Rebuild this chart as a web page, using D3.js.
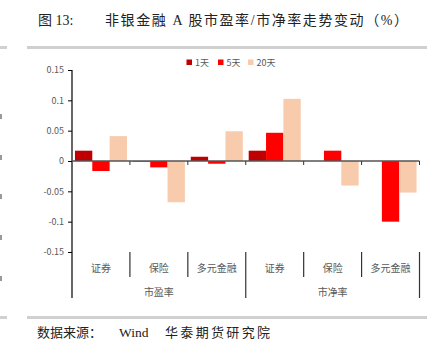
<!DOCTYPE html>
<html><head><meta charset="utf-8">
<script src="https://cdn.jsdelivr.net/npm/d3@7/dist/d3.min.js"></script>
<style>
body{margin:0;background:#fff;}
svg{display:block;}
</style></head>
<body>
<svg id="c" width="444" height="350"></svg>
<script>
const groups = ["市盈率", "市净率"];
const categories = ["证券", "保险", "多元金融"];
const seriesNames = ["1天", "5天", "20天"];
const colors = ["#C00000", "#FF0000", "#F8CBAD"];
// values per series across the 6 category slots (市盈率: 证券, 保险, 多元金融; 市净率: 证券, 保险, 多元金融)
const s1 = [0.017, -0.001, 0.007, 0.017, 0.0, 0.0];
const s5 = [-0.0165, -0.0105, -0.0045, 0.0465, 0.017, -0.100];
const s20 = [0.041, -0.068, 0.049, 0.1025, -0.0405, -0.052];
const yTicks = [0.15, 0.1, 0.05, 0, -0.05, -0.1, -0.15];
const yTickLabels = ["0.15", "0.1", "0.05", "0", "-0.05", "-0.1", "-0.15"];

const svg = d3.select("#c");
const serif = "'Liberation Serif','DejaVu Serif','Noto Sans CJK SC',serif";
const sans = "'Noto Sans CJK SC','Microsoft YaHei',sans-serif";

// title
svg.append("text").attr("x", 38).attr("y", 25).attr("font-family", serif)
  .attr("font-size", 14).attr("fill", "#222").text("图 13:");
svg.append("text").attr("x", 105).attr("y", 25).attr("font-family", serif)
  .attr("font-size", 14).attr("fill", "#222")
  .attr("textLength", 303).attr("lengthAdjust", "spacing")
  .text("非银金融 A 股市盈率/市净率走势变动（%）");

// separator lines
svg.append("rect").attr("x", 27).attr("y", 46).attr("width", 400).attr("height", 3).attr("fill", "#d0d0d0");
svg.append("rect").attr("x", 0).attr("y", 46).attr("width", 7).attr("height", 3).attr("fill", "#d0d0d0");
svg.append("rect").attr("x", 27).attr("y", 316).attr("width", 400).attr("height", 3).attr("fill", "#d0d0d0");
svg.append("rect").attr("x", 0).attr("y", 316).attr("width", 7).attr("height", 3).attr("fill", "#d0d0d0");

// clipped neighbour fragments at left edge (drawn as small marks)
[114,155,194,235,276].forEach(yy=>{
  svg.append("rect").attr("x", 0).attr("y", yy).attr("width", 2).attr("height", 5).attr("fill", "#999");
});

// source
svg.append("text").attr("x", 37).attr("y", 337).attr("font-family", serif)
  .attr("font-size", 13).attr("fill", "#222").text("数据来源：");
svg.append("text").attr("x", 119).attr("y", 337).attr("font-family", serif)
  .attr("font-size", 13.5).attr("fill", "#222").text("Wind");
svg.append("text").attr("x", 165).attr("y", 337).attr("font-family", serif)
  .attr("font-size", 13).attr("fill", "#222")
  .attr("textLength", 105).attr("lengthAdjust", "spacing").text("华泰期货研究院");

// plot
const x0 = 72, x1 = 419.5;
const y = d3.scaleLinear().domain([-0.15, 0.15]).range([252, 70]);
const slots = d3.range(6);
const x = d3.scaleBand().domain(slots).range([x0, x1]).paddingInner(0).paddingOuter(0);
const inner = d3.scaleBand().domain([0,1,2]).range([0, x.bandwidth()]).paddingInner(0).paddingOuter(0.17);

// y axis
const yAxis = d3.axisLeft(y).tickValues(yTicks).tickSize(4).tickFormat((d,i)=>yTickLabels[i]);
const ga = svg.append("g").attr("transform", `translate(${x0},0)`).call(yAxis);
ga.select(".domain").remove();
ga.selectAll(".tick line").attr("stroke", "#000");
ga.selectAll(".tick text").attr("font-family", sans).attr("font-size", 9).attr("fill", "#595959").attr("x", -8);
svg.append("line").attr("x1", x0).attr("x2", x0).attr("y1", 70).attr("y2", 298).attr("stroke", "#000").attr("stroke-width", 1.2);

// bars
const all = [s1, s5, s20];
all.forEach((arr, si) => {
  svg.append("g").selectAll("rect").data(arr).join("rect")
    .attr("x", (d,i) => x(i) + inner(si))
    .attr("width", inner.bandwidth())
    .attr("y", d => Math.min(y(d), y(0)))
    .attr("height", d => Math.abs(y(d) - y(0)))
    .attr("fill", colors[si]);
});

// x axis line at 0
svg.append("line").attr("x1", x0).attr("x2", x1).attr("y1", y(0)).attr("y2", y(0)).attr("stroke", "#555").attr("stroke-width", 1.3);
// tick marks below axis
slots.forEach(i => {
  const tx = x(i) + x.bandwidth();
  svg.append("line").attr("x1", tx).attr("x2", tx).attr("y1", y(0)).attr("y2", y(0)+4).attr("stroke", "#333");
});

// category labels and separators
slots.forEach(i => {
  svg.append("text").attr("x", x(i) + x.bandwidth()/2).attr("y", 272).attr("text-anchor", "middle")
    .attr("font-family", sans).attr("font-size", 10).attr("fill", "#595959").text(categories[i % 3]);
  const tx = x(i) + x.bandwidth();
  const long = (i % 3) === 2;
  svg.append("line").attr("x1", tx).attr("x2", tx).attr("y1", 252).attr("y2", long ? 298 : 277)
    .attr("stroke", "#333").attr("stroke-width", 1.2);
});
groups.forEach((g, gi) => {
  const cx = (x(gi*3) + x(gi*3+2) + x.bandwidth()) / 2;
  svg.append("text").attr("x", cx).attr("y", 296).attr("text-anchor", "middle")
    .attr("font-family", sans).attr("font-size", 10).attr("fill", "#595959").text(g);
});

// legend
const legX = [186.5, 218, 248];
seriesNames.forEach((n, i) => {
  svg.append("rect").attr("x", legX[i]).attr("y", 59.5).attr("width", 5.5).attr("height", 5.5).attr("fill", colors[i]);
  svg.append("text").attr("x", legX[i] + 8.5).attr("y", 65.5).attr("font-family", sans)
    .attr("font-size", 9).attr("fill", "#595959").text(n);
});
</script>
</body></html>
